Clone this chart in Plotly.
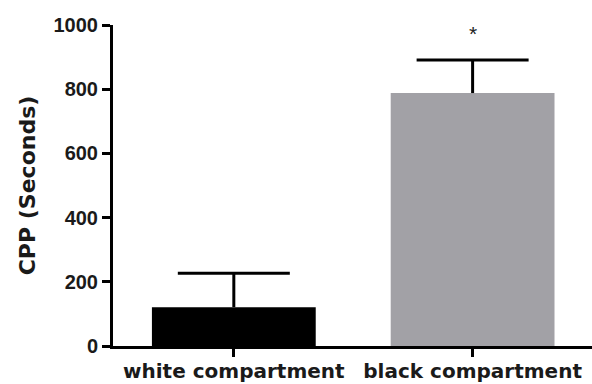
import plotly.graph_objects as go

categories = ["white compartment", "black compartment"]
means = [121, 788]
errors_up = [106, 103]
bar_colors = ["#000000", "#a2a1a6"]
y_ticks = [0, 200, 400, 600, 800, 1000]
sig_marks = ["", "*"]
sig_y = [None, 975]

xpos = list(range(len(categories)))
cap_y = [m + e for m, e in zip(means, errors_up)]

fig = go.Figure()
fig.add_trace(go.Bar(
    x=xpos, y=means,
    width=0.686,
    marker=dict(color=bar_colors, line=dict(width=0)),
    error_y=dict(type="data", symmetric=False, array=errors_up,
                 arrayminus=[0] * len(means), color="#000000", thickness=3, width=0),
    showlegend=False,
))
# error bar caps (top only)
fig.add_trace(go.Scatter(
    x=xpos, y=cap_y, mode="markers",
    marker=dict(symbol="line-ew", size=80, color="#000",
                line=dict(width=3, color="#000")),
    showlegend=False, hoverinfo="skip",
))

for i, (m, yy) in enumerate(zip(sig_marks, sig_y)):
    if m:
        fig.add_annotation(x=i, y=yy, text=m, showarrow=False,
                           font=dict(family="Liberation Sans", size=21, color="#222"),
                           yanchor="middle")

fig.update_layout(
    width=592, height=384,
    margin=dict(l=113, r=0, t=25, b=38),
    paper_bgcolor="white", plot_bgcolor="white",
    font=dict(family="Liberation Sans", color="#000"),
    xaxis=dict(
        range=[-0.506, 1.5], tickvals=xpos, ticktext=categories,
        showline=True, linecolor="#000", linewidth=3,
        ticks="outside", ticklen=8, tickwidth=3, tickcolor="#000",
        tickfont=dict(family="DejaVu Sans", size=20, color="#1a1a1a", weight="bold"),
        ticklabelstandoff=-3,
        showgrid=False, zeroline=False, automargin=False,
    ),
    yaxis=dict(
        range=[0, 1000], tickvals=y_ticks,
        showline=True, linecolor="#000", linewidth=3,
        ticks="outside", ticklen=8, tickwidth=3, tickcolor="#000",
        tickfont=dict(family="Liberation Sans", size=20, color="#1a1a1a", weight="bold"),
        title=dict(text="CPP (Seconds)", font=dict(family="DejaVu Sans", size=22, color="#1a1a1a", weight="bold"), standoff=12),
        showgrid=False, zeroline=False, automargin=False,
    ),
)

fig.write_html("out.html", config={"displayModeBar": False},
               post_script="document.body.style.margin='0';document.body.style.overflow='hidden';")
